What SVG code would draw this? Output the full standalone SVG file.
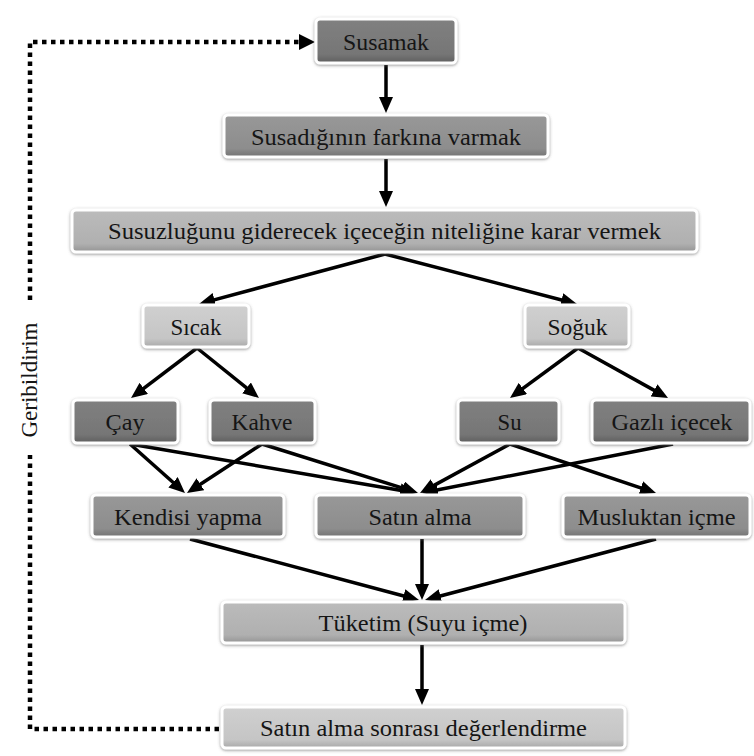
<svg xmlns="http://www.w3.org/2000/svg" width="754" height="756" viewBox="0 0 754 756">
<style>
  .box { stroke: #ffffff; stroke-width: 3; filter: url(#glow); }
  .dark { fill: url(#gDark); }
  .mid { fill: url(#gMid); }
  .light { fill: url(#gLight); }
  .pale { fill: url(#gPale); }
  .lbl { font-family: 'Liberation Serif', 'Times New Roman', Times, serif; font-size: 23px; fill: #151515; text-anchor: middle; }
  .edge { stroke: #000; stroke-width: 3.5; fill: none; marker-end: url(#arrow); }
  .fb { stroke: #000; stroke-width: 4.5; fill: none; stroke-dasharray: 4.5 4.5; }
</style>
<defs>
  <filter id="glow" x="-10%" y="-30%" width="120%" height="160%">
    <feDropShadow dx="0" dy="1" stdDeviation="1.8" flood-color="#666" flood-opacity="0.7"/>
  </filter>
  <linearGradient id="gDark" x1="0" y1="0" x2="0" y2="1">
    <stop offset="0" stop-color="#808080"/>
    <stop offset="0.8" stop-color="#767676"/>
    <stop offset="1" stop-color="#5e5e5e"/>
  </linearGradient>
  <linearGradient id="gMid" x1="0" y1="0" x2="0" y2="1">
    <stop offset="0" stop-color="#989898"/>
    <stop offset="0.8" stop-color="#8d8d8d"/>
    <stop offset="1" stop-color="#727272"/>
  </linearGradient>
  <linearGradient id="gLight" x1="0" y1="0" x2="0" y2="1">
    <stop offset="0" stop-color="#bbbbbb"/>
    <stop offset="0.8" stop-color="#b0b0b0"/>
    <stop offset="1" stop-color="#949494"/>
  </linearGradient>
  <linearGradient id="gPale" x1="0" y1="0" x2="0" y2="1">
    <stop offset="0" stop-color="#d0d0d0"/>
    <stop offset="0.8" stop-color="#c5c5c5"/>
    <stop offset="1" stop-color="#a8a8a8"/>
  </linearGradient>
  <marker id="arrow" viewBox="0 0 16 14" refX="10" refY="7" markerWidth="16" markerHeight="14" markerUnits="userSpaceOnUse" orient="auto">
    <path d="M0,0 L16,7 L0,14 z" fill="#000"/>
  </marker>
</defs>
<rect width="754" height="756" fill="#ffffff"/>

<g id="connectors">
  <line class="edge" x1="386" y1="65" x2="386" y2="107"/>
  <line class="edge" x1="386" y1="159" x2="386" y2="201"/>
  <line class="edge" x1="385" y1="254" x2="204.8" y2="302.4"/>
  <line class="edge" x1="385" y1="254" x2="571.2" y2="302.5"/>
  <line class="edge" x1="197" y1="348" x2="135.8" y2="394.4"/>
  <line class="edge" x1="197" y1="348" x2="254.3" y2="394.2"/>
  <line class="edge" x1="578" y1="348" x2="514.8" y2="394.4"/>
  <line class="edge" x1="578" y1="348" x2="662.8" y2="395.1"/>
  <line class="edge" x1="130" y1="444" x2="180.5" y2="489"/>
  <line class="edge" x1="130" y1="444" x2="410.1" y2="492"/>
  <line class="edge" x1="262" y1="444" x2="192" y2="489.7"/>
  <line class="edge" x1="262" y1="444" x2="412.3" y2="491.2"/>
  <line class="edge" x1="510" y1="444" x2="425.3" y2="490.1"/>
  <line class="edge" x1="510" y1="444" x2="650.3" y2="491.1"/>
  <line class="edge" x1="673" y1="444" x2="427.9" y2="491.8"/>
  <line class="edge" x1="190" y1="539" x2="413.2" y2="598.5"/>
  <line class="edge" x1="422" y1="539" x2="422" y2="594"/>
  <line class="edge" x1="656" y1="539" x2="430.8" y2="598.5"/>
  <line class="edge" x1="422" y1="645" x2="422" y2="699"/>
  <path class="fb" d="M219,729 H30 V455"/>
  <path class="fb" d="M30,300 V42 H304"/>
  <path d="M299,34 L315,42 L299,50 z" fill="#000"/>
  <text class="lbl" font-family="Liberation Serif, serif" transform="translate(37,380) rotate(-90)" textLength="115" lengthAdjust="spacingAndGlyphs">Geribildirim</text>
</g>

<g id="n-susamak">
  <rect class="box dark" x="316" y="19" width="140" height="44" rx="4"/>
  <text class="lbl" font-family="Liberation Serif, serif" x="386" y="49.5" textLength="86" lengthAdjust="spacingAndGlyphs">Susamak</text>
</g>
<g id="n-farkina">
  <rect class="box mid" x="224" y="115" width="324" height="42" rx="4"/>
  <text class="lbl" font-family="Liberation Serif, serif" x="386" y="144.5" textLength="270" lengthAdjust="spacingAndGlyphs">Susadığının farkına varmak</text>
</g>
<g id="n-karar">
  <rect class="box light" x="72" y="210" width="625" height="42" rx="4"/>
  <text class="lbl" font-family="Liberation Serif, serif" x="384.5" y="239" textLength="553" lengthAdjust="spacingAndGlyphs">Susuzluğunu giderecek içeceğin niteliğine karar vermek</text>
</g>
<g id="n-sicak">
  <rect class="box pale" x="143" y="305" width="106" height="42" rx="4"/>
  <text class="lbl" font-family="Liberation Serif, serif" x="196" y="334.5" textLength="51" lengthAdjust="spacingAndGlyphs">Sıcak</text>
</g>
<g id="n-soguk">
  <rect class="box pale" x="525" y="305" width="104" height="42" rx="4"/>
  <text class="lbl" font-family="Liberation Serif, serif" x="577.5" y="334.5" textLength="60" lengthAdjust="spacingAndGlyphs">Soğuk</text>
</g>
<g id="n-cay">
  <rect class="box dark" x="73" y="400" width="105" height="43" rx="4"/>
  <text class="lbl" font-family="Liberation Serif, serif" x="125" y="429.5" textLength="39" lengthAdjust="spacingAndGlyphs">Çay</text>
</g>
<g id="n-kahve">
  <rect class="box dark" x="210" y="400" width="105" height="43" rx="4"/>
  <text class="lbl" font-family="Liberation Serif, serif" x="262" y="429.5" textLength="61" lengthAdjust="spacingAndGlyphs">Kahve</text>
</g>
<g id="n-su">
  <rect class="box dark" x="458" y="400" width="101" height="43" rx="4"/>
  <text class="lbl" font-family="Liberation Serif, serif" x="509.5" y="429.5" textLength="24" lengthAdjust="spacingAndGlyphs">Su</text>
</g>
<g id="n-gazli">
  <rect class="box dark" x="592" y="400" width="158" height="43" rx="4"/>
  <text class="lbl" font-family="Liberation Serif, serif" x="672" y="429.5" textLength="121" lengthAdjust="spacingAndGlyphs">Gazlı içecek</text>
</g>
<g id="n-kendisi">
  <rect class="box mid" x="92" y="495" width="192" height="42" rx="4"/>
  <text class="lbl" font-family="Liberation Serif, serif" x="188" y="524.5" textLength="148" lengthAdjust="spacingAndGlyphs">Kendisi yapma</text>
</g>
<g id="n-satin">
  <rect class="box mid" x="316" y="495" width="208" height="42" rx="4"/>
  <text class="lbl" font-family="Liberation Serif, serif" x="420" y="524.5" textLength="103" lengthAdjust="spacingAndGlyphs">Satın alma</text>
</g>
<g id="n-musluk">
  <rect class="box mid" x="563" y="495" width="187" height="42" rx="4"/>
  <text class="lbl" font-family="Liberation Serif, serif" x="656.5" y="524.5" textLength="158" lengthAdjust="spacingAndGlyphs">Musluktan içme</text>
</g>
<g id="n-tuketim">
  <rect class="box light" x="222" y="602" width="403" height="41" rx="4"/>
  <text class="lbl" font-family="Liberation Serif, serif" x="423" y="631" textLength="209" lengthAdjust="spacingAndGlyphs">Tüketim (Suyu içme)</text>
</g>
<g id="n-degerlendirme">
  <rect class="box pale" x="222" y="707" width="403" height="41" rx="4"/>
  <text class="lbl" font-family="Liberation Serif, serif" x="423.5" y="736" textLength="327" lengthAdjust="spacingAndGlyphs">Satın alma sonrası değerlendirme</text>
</g>
</svg>
